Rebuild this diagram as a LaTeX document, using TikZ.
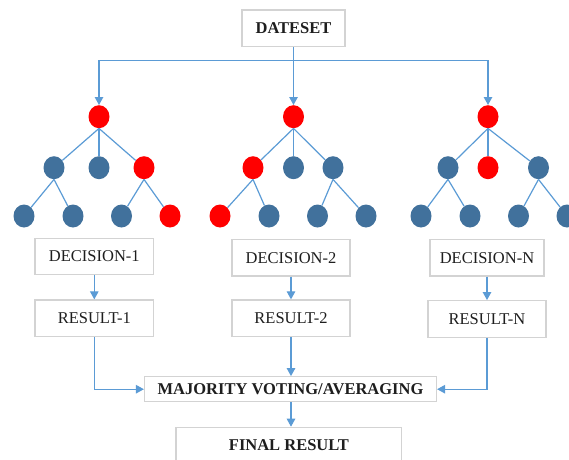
\documentclass[tikz,border=0pt]{standalone}
\usepackage{fontspec}
\setmainfont{Liberation Serif}
\usetikzlibrary{arrows.meta,shapes.geometric}
\definecolor{nodeblue}{HTML}{41719C}
\definecolor{nodered}{HTML}{FF0000}
\definecolor{linkblue}{HTML}{5B9BD5}
\definecolor{boxgray}{HTML}{D3D3D3}
\definecolor{txt}{HTML}{1E1E1E}
\tikzset{
  box/.style={draw=boxgray, line width=1.2pt, fill=white, inner sep=0pt, text=txt,
              font=\fontsize{16.5}{18}\selectfont},
  bbox/.style={box, font=\fontsize{16.5}{18}\selectfont\bfseries},
  tn/.style={ellipse, minimum width=21pt, minimum height=23pt, inner sep=0pt},
  bn/.style={tn, fill=nodeblue},
  rn/.style={tn, fill=nodered},
  link/.style={draw=linkblue, line width=1.2pt},
  arr/.style={link, -{Triangle[width=8.5pt,length=8pt]}},
}
\begin{document}
\begin{tikzpicture}[x=1pt,y=-1pt]
\useasboundingbox (0,0) rectangle (569,459);
\clip (0,0) rectangle (569,459);
% boxes
\node[bbox, minimum width=103pt, minimum height=36.7pt] (ds) at (293.5,28.3) {DATESET};
\node[box, minimum width=118.5pt, minimum height=36pt] (d1) at (94.3,256.3) {DECISION-1};
\node[box, minimum width=118pt, minimum height=36.7pt] (d2) at (291,257.7) {DECISION-2};
\node[box, minimum width=114pt, minimum height=36.7pt] (dn) at (487,257.7) {DECISION-N};
\node[box, minimum width=118.5pt, minimum height=36.7pt] (r1) at (94.3,318.3) {RESULT-1};
\node[box, minimum width=118pt, minimum height=36.7pt] (r2) at (291,318.3) {RESULT-2};
\node[box, minimum width=118pt, minimum height=36.7pt] (rn) at (487,319) {RESULT-N};
\node[bbox, minimum width=292pt, minimum height=25pt] (maj) at (290.5,389.2) {MAJORITY VOTING/AVERAGING};
\node[bbox, minimum width=225.7pt, minimum height=36pt] (fin) at (288.9,445.3) {FINAL RESULT};
% trees
% tree 1
\node[rn] (a0) at (99,116.7) {};
\node[bn] (a1) at (54,167.7) {};
\node[bn] (a2) at (99,167.7) {};
\node[rn] (a3) at (144,167.7) {};
\node[bn] (a4) at (24,216) {};
\node[bn] (a5) at (73,216) {};
\node[bn] (a6) at (121.5,216) {};
\node[rn] (a7) at (170,216) {};
% tree 2
\node[rn] (b0) at (293.5,116.7) {};
\node[rn] (b1) at (253,167.7) {};
\node[bn] (b2) at (293.5,167.7) {};
\node[bn] (b3) at (333,167.7) {};
\node[rn] (b4) at (220,216) {};
\node[bn] (b5) at (269,216) {};
\node[bn] (b6) at (317.5,216) {};
\node[bn] (b7) at (366,216) {};
% tree 3
\node[rn] (c0) at (488,116.7) {};
\node[bn] (c1) at (448,167.7) {};
\node[rn] (c2) at (488,167.7) {};
\node[bn] (c3) at (538.5,167.7) {};
\node[bn] (c4) at (421,216) {};
\node[bn] (c5) at (470,216) {};
\node[bn] (c6) at (518.5,216) {};
\node[bn] (c7) at (567,216) {};
% tree edges
\foreach \t in {a,b,c}{
  \draw[link] (\t0.south) -- (\t1);
  \draw[link] (\t0.south) -- (\t2.north);
  \draw[link] (\t0.south) -- (\t3);
  \draw[link] (\t1.south) -- (\t4);
  \draw[link] (\t1.south) -- (\t5);
  \draw[link] (\t3.south) -- (\t6);
  \draw[link] (\t3.south) -- (\t7);
}
% dataset arrows
\coordinate (j) at (293.5,60.7);
\draw[link] (ds.south) -- (j);
\draw[arr] (j) -| (a0.north);
\draw[arr] (j) -| (c0.north);
\draw[arr] (j) -- (b0.north);
% decision -> result
\draw[arr] (d1) -- (r1);
\draw[arr] (d2) -- (r2);
\draw[arr] (dn) -- (rn);
% result -> majority
\draw[arr] (r1.south) |- (maj.west);
\draw[arr] (r2.south) -- (r2.south |- maj.north);
\draw[arr] (rn.south) |- (maj.east);
\draw[arr] (maj.south -| r2.south) -- (r2.south |- fin.north);
\end{tikzpicture}
\end{document}
